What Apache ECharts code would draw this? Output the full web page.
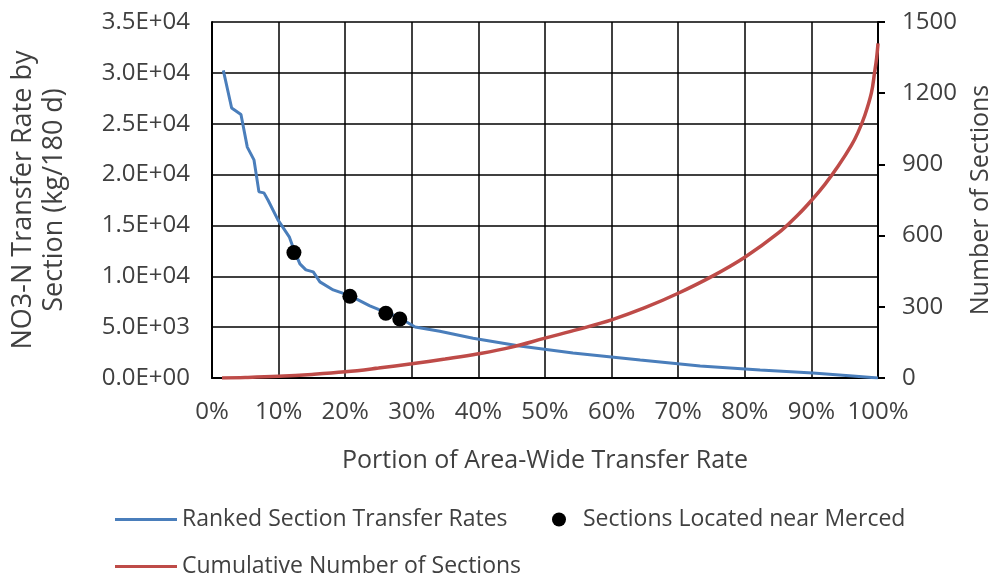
<!DOCTYPE html>
<html>
<head>
<meta charset="utf-8">
<script src="https://cdn.jsdelivr.net/npm/echarts@6/dist/echarts.min.js"></script>
<style>
  html, body { margin: 0; padding: 0; background: #fff; }
  #chart { width: 1005px; height: 575px; }
</style>
</head>
<body>
<div id="chart"></div>
<script>
// ranked section transfer rates: [portion %, kg/180 d]
var rankedRates = [
    [1.7, 30250], [2.95, 26540], [4.35, 25900], [5.3, 22700], [6.3, 21450],
    [7.05, 18300], [7.8, 18200], [8.4, 17500], [9.9, 15550], [10.2, 15480],
    [11.6, 13880], [12.3, 12600], [13.2, 11220], [14.1, 10630], [15.2, 10430],
    [16.2, 9450], [18.2, 8660], [20.7, 8100], [23.7, 7090], [26.1, 6450],
    [28.2, 5900], [30.5, 5020], [34.2, 4600], [39.2, 3900], [46.2, 3150],
    [54.2, 2460], [64.3, 1770], [73.3, 1180], [82.3, 790], [90.2, 490],
    [96.2, 200], [100, 0]
];
// sections near Merced
var mercedSections = [
    [12.3, 12330], [20.7, 8040], [26.1, 6370], [28.2, 5800]
];
// cumulative number of sections: [portion %, count]
var cumulativeSections = [
    [1.5, 0], [5, 2], [10, 7], [15, 15], [20, 26], [25, 42], [30, 60],
    [35, 80], [40, 102], [45, 130], [50, 168], [55, 205], [60, 245],
    [65, 296], [70, 357], [75, 427], [80, 509], [85, 610], [88, 688],
    [90, 748], [92, 815], [94, 892], [96, 980], [97, 1035], [98, 1105],
    [99, 1200], [99.5, 1290], [99.8, 1350], [100, 1410]
];
var leftTickLabels = ['0.0E+00', '5.0E+03', '1.0E+04', '1.5E+04', '2.0E+04',
    '2.5E+04', '3.0E+04', '3.5E+04'];

var textColor = '#404040';
var fontName = 'Open Sans';
var blue = '#4A7EBB';
var red = '#BE4B48';

var legendText = { fontFamily: fontName, fontSize: 23, color: textColor };

var chart = echarts.init(document.getElementById('chart'));
var option = {
    animation: false,
    textStyle: { fontFamily: fontName, color: textColor },
    grid: { left: 212, right: 127, top: 22, bottom: 197 },
    legend: [
        {
            left: 110,
            top: 503,
            icon: 'rect',
            itemWidth: 62,
            itemHeight: 3,
            itemGap: 0,
            textStyle: legendText,
            data: ['Ranked Section Transfer Rates']
        },
        {
            left: 547,
            top: 503,
            icon: 'circle',
            itemWidth: 14,
            itemHeight: 14,
            textStyle: Object.assign({}, legendText, { padding: [0, 0, 0, 12] }),
            data: ['Sections Located near Merced']
        },
        {
            left: 110,
            top: 550,
            icon: 'rect',
            itemWidth: 62,
            itemHeight: 3,
            textStyle: legendText,
            data: ['Cumulative Number of Sections']
        }
    ],
    xAxis: {
        type: 'value',
        min: 0,
        max: 100,
        interval: 10,
        name: 'Portion of Area-Wide Transfer Rate',
        nameLocation: 'middle',
        nameGap: 70,
        nameTextStyle: { fontSize: 25, color: textColor },
        axisLine: { lineStyle: { color: '#000', width: 2 } },
        axisTick: { show: false },
        axisLabel: { formatter: '{value}%', fontSize: 24, color: textColor, margin: 22 },
        splitLine: { show: true, lineStyle: { color: '#000', width: 1.5 } }
    },
    yAxis: [
        {
            type: 'value',
            min: 0,
            max: 35000,
            interval: 5000,
            name: 'NO3-N Transfer Rate by\nSection (kg/180 d)',
            nameLocation: 'middle',
            nameGap: 142,
            nameTextStyle: { fontSize: 27, color: textColor, lineHeight: 31 },
            axisLine: { show: true, lineStyle: { color: '#000', width: 2 } },
            axisTick: { show: false },
            axisLabel: {
                fontSize: 24,
                color: textColor,
                margin: 22,
                formatter: function (v) { return leftTickLabels[Math.round(v / 5000)]; }
            },
            splitLine: { show: true, lineStyle: { color: '#000', width: 1.5 } }
        },
        {
            type: 'value',
            min: 0,
            max: 1500,
            interval: 300,
            name: 'Number of Sections',
            nameLocation: 'middle',
            nameGap: 90,
            nameTextStyle: { fontSize: 25, color: textColor },
            axisLine: { show: true, lineStyle: { color: '#000', width: 2 } },
            axisTick: { show: true, length: 7, lineStyle: { color: '#000', width: 2 } },
            axisLabel: {
                fontSize: 24,
                color: textColor,
                margin: 24,
                formatter: function (v) { return String(v); }
            },
            splitLine: { show: false }
        }
    ],
    series: [
        {
            name: 'Ranked Section Transfer Rates',
            type: 'line',
            yAxisIndex: 0,
            symbol: 'none',
            lineStyle: { color: blue, width: 3 },
            itemStyle: { color: blue },
            data: rankedRates,
            z: 3
        },
        {
            name: 'Sections Located near Merced',
            type: 'scatter',
            yAxisIndex: 0,
            symbolSize: 15,
            itemStyle: { color: '#000', opacity: 1 },
            data: mercedSections,
            z: 5
        },
        {
            name: 'Cumulative Number of Sections',
            type: 'line',
            yAxisIndex: 1,
            symbol: 'none',
            smooth: 0.4,
            lineStyle: { color: red, width: 3.5 },
            itemStyle: { color: red },
            data: cumulativeSections,
            z: 4
        }
    ]
};
chart.setOption(option);
</script>
</body>
</html>
